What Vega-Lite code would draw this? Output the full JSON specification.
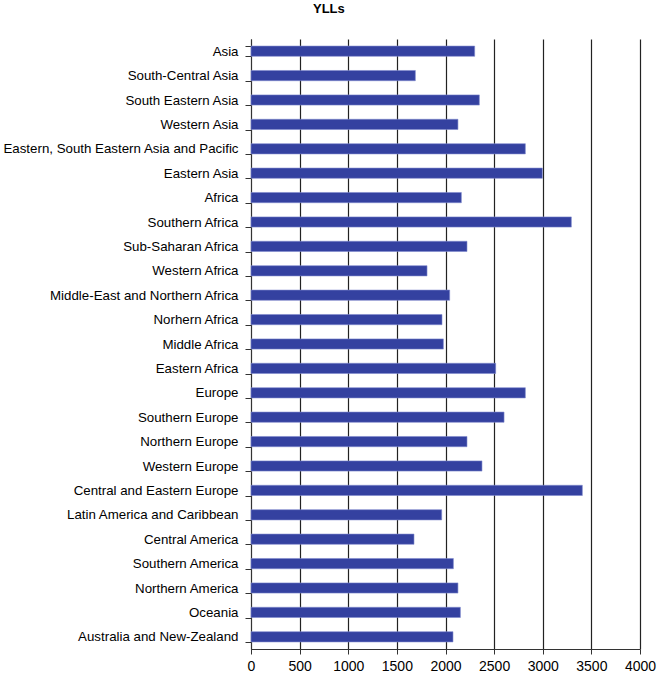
{
  "$schema": "https://vega.github.io/schema/vega-lite/v6.json",
  "width": 389,
  "height": 610,
  "autosize": {"type": "none"},
  "padding": {"left": 251, "top": 39, "right": 17, "bottom": 28},
  "background": "white",
  "title": {"text": "YLLs", "font": "Liberation Sans", "fontSize": 13, "fontWeight": "bold", "color": "black", "anchor": "middle", "frame": "bounds", "offset": 16},
  "data": {"values": [
    {"region": "Asia", "YLLs": 2300},
    {"region": "South-Central Asia", "YLLs": 1690},
    {"region": "South Eastern Asia", "YLLs": 2348},
    {"region": "Western Asia", "YLLs": 2128},
    {"region": "Eastern, South Eastern Asia and Pacific", "YLLs": 2821},
    {"region": "Eastern Asia", "YLLs": 2996},
    {"region": "Africa", "YLLs": 2163},
    {"region": "Southern Africa", "YLLs": 3294},
    {"region": "Sub-Saharan Africa", "YLLs": 2221},
    {"region": "Western Africa", "YLLs": 1810},
    {"region": "Middle-East and Northern Africa", "YLLs": 2043},
    {"region": "Norhern Africa", "YLLs": 1964},
    {"region": "Middle Africa", "YLLs": 1978},
    {"region": "Eastern Africa", "YLLs": 2516},
    {"region": "Europe", "YLLs": 2821},
    {"region": "Southern Europe", "YLLs": 2602},
    {"region": "Northern Europe", "YLLs": 2221},
    {"region": "Western Europe", "YLLs": 2375},
    {"region": "Central and Eastern Europe", "YLLs": 3407},
    {"region": "Latin America and Caribbean", "YLLs": 1961},
    {"region": "Central America", "YLLs": 1676},
    {"region": "Southern America", "YLLs": 2081},
    {"region": "Northern America", "YLLs": 2128},
    {"region": "Oceania", "YLLs": 2153},
    {"region": "Australia and New-Zealand", "YLLs": 2077}
  ]},
  "mark": {"type": "bar", "color": "#3441A0", "stroke": "#7F89CC", "strokeWidth": 0.6},
  "encoding": {
    "y": {
      "field": "region", "type": "nominal", "sort": null,
      "scale": {"paddingInner": 0.58, "paddingOuter": 0.29},
      "axis": {"title": null, "tickBand": "extent", "grid": false, "domainColor": "#333", "tickColor": "#333", "tickSize": 6, "labelPadding": 7, "labelFont": "Liberation Sans", "labelFontSize": 13.3, "labelColor": "black", "labelLimit": 300}
    },
    "x": {
      "field": "YLLs", "type": "quantitative",
      "scale": {"domain": [0, 4000], "nice": false},
      "axis": {"title": null, "values": [0, 500, 1000, 1500, 2000, 2500, 3000, 3500, 4000], "format": "d", "grid": true, "gridColor": "#222", "gridWidth": 1.2, "gridOpacity": 1, "domainColor": "#333", "tickColor": "#333", "tickSize": 5, "labelPadding": 5, "labelFont": "Liberation Sans", "labelFontSize": 14, "labelColor": "black", "labelFlush": false}
    }
  },
  "config": {"view": {"stroke": null}}
}
